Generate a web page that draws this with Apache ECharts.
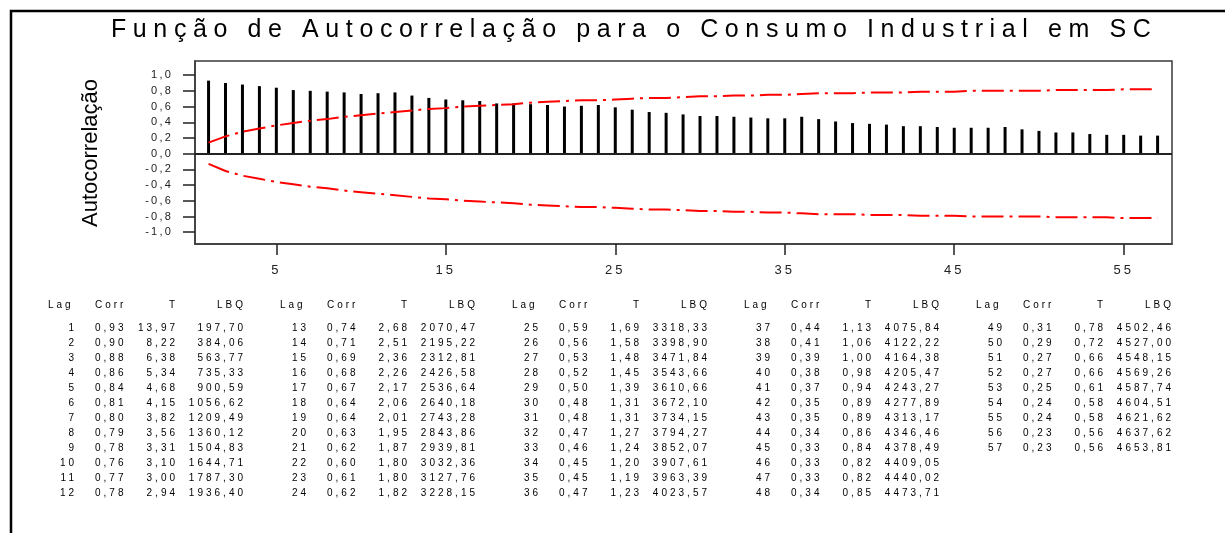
<!DOCTYPE html>
<html>
<head>
<meta charset="utf-8">
<script src="https://cdn.jsdelivr.net/npm/echarts@6/dist/echarts.min.js"></script>
<style>
  html, body { margin: 0; padding: 0; background: #fff; }
  #chart { width: 1225px; height: 533px; }
</style>
</head>
<body>
<div id="chart"></div>
<script>
// ---------------- DATA ----------------
const chartTitle = 'Função de Autocorrelação para o Consumo Industrial em SC';
const yAxisTitle = 'Autocorrelação';
const tableHeaders = ['Lag', 'Corr', 'T', 'LBQ'];

const lags = [1,2,3,4,5,6,7,8,9,10,11,12,13,14,15,16,17,18,19,20,21,22,23,24,25,26,27,28,29,30,
  31,32,33,34,35,36,37,38,39,40,41,42,43,44,45,46,47,48,49,50,51,52,53,54,55,56,57];

const corr = [0.93,0.90,0.88,0.86,0.84,0.81,0.80,0.79,0.78,0.76,0.77,0.78,
  0.74,0.71,0.69,0.68,0.67,0.64,0.64,0.63,0.62,0.60,0.61,0.62,
  0.59,0.56,0.53,0.52,0.50,0.48,0.48,0.47,0.46,0.45,0.45,0.47,
  0.44,0.41,0.39,0.38,0.37,0.35,0.35,0.34,0.33,0.33,0.33,0.34,
  0.31,0.29,0.27,0.27,0.25,0.24,0.24,0.23,0.23];

const tStat = [13.97,8.22,6.38,5.34,4.68,4.15,3.82,3.56,3.31,3.10,3.00,2.94,
  2.68,2.51,2.36,2.26,2.17,2.06,2.01,1.95,1.87,1.80,1.80,1.82,
  1.69,1.58,1.48,1.45,1.39,1.31,1.31,1.27,1.24,1.20,1.19,1.23,
  1.13,1.06,1.00,0.98,0.94,0.89,0.89,0.86,0.84,0.82,0.82,0.85,
  0.78,0.72,0.66,0.66,0.61,0.58,0.58,0.56,0.56];

const lbq = [197.70,384.06,563.77,735.33,900.59,1056.62,1209.49,1360.12,1504.83,1644.71,1787.30,1936.40,
  2070.47,2195.22,2312.81,2426.58,2536.64,2640.18,2743.28,2843.86,2939.81,3032.36,3127.76,3228.15,
  3318.33,3398.90,3471.84,3543.66,3610.66,3672.10,3734.15,3794.27,3852.07,3907.61,3963.39,4023.57,
  4075.84,4122.22,4164.38,4205.47,4243.27,4277.89,4313.17,4346.46,4378.49,4409.05,4440.02,4473.71,
  4502.46,4527.00,4548.15,4569.26,4587.74,4604.51,4621.62,4637.62,4653.81];

// significance limits
const upperLimit = [0.14,0.22,0.28,0.32,0.36,0.39,0.42,0.44,0.47,0.49,0.51,0.53,0.55,0.57,0.58,0.60,0.61,0.62,0.63,0.65,
  0.66,0.67,0.68,0.68,0.69,0.70,0.71,0.71,0.72,0.73,0.73,0.74,0.74,0.75,0.75,0.76,0.77,0.77,0.77,0.78,
  0.78,0.78,0.79,0.79,0.79,0.80,0.80,0.80,0.80,0.80,0.81,0.81,0.81,0.81,0.82,0.82,0.82];
const lowerLimit = [-0.13,-0.22,-0.28,-0.32,-0.36,-0.39,-0.42,-0.44,-0.47,-0.49,-0.51,-0.53,-0.55,-0.57,-0.58,-0.60,-0.61,-0.62,-0.63,-0.65,
  -0.66,-0.67,-0.68,-0.68,-0.69,-0.70,-0.71,-0.71,-0.72,-0.73,-0.73,-0.74,-0.74,-0.75,-0.75,-0.76,-0.77,-0.77,-0.77,-0.78,
  -0.78,-0.78,-0.79,-0.79,-0.79,-0.80,-0.80,-0.80,-0.80,-0.80,-0.81,-0.81,-0.81,-0.81,-0.82,-0.82,-0.82];

const xTickValues = [5,15,25,35,45,55];
const yTickValues = [-1,-0.8,-0.6,-0.4,-0.2,0,0.2,0.4,0.6,0.8,1];

// ------------- letter spacing (by font size) -------------
const LETTER_SPACING = { '25px': '6.6px', '11px': '2.2px', '13px': '3px', '10px': '3px' };
(function () {
  const P = CanvasRenderingContext2D.prototype;
  ['fillText', 'strokeText'].forEach(function (fn) {
    const orig = P[fn];
    P[fn] = function (t, x, y, w) {
      const m = /(\d+(?:\.\d+)?px)/.exec(this.font || '');
      const hasLS = 'letterSpacing' in this;
      const prev = hasLS ? this.letterSpacing : null;
      if (hasLS) this.letterSpacing = (m && LETTER_SPACING[m[1]]) || '0px';
      const r = w === undefined ? orig.call(this, t, x, y) : orig.call(this, t, x, y, w);
      if (hasLS) this.letterSpacing = prev;
      return r;
    };
  });
})();

// ---------------- CHART ----------------
const FONT = 'Arial, "Liberation Sans", sans-serif';
const fmt = v => v.toFixed(2).replace('.', ',');
const fmt1 = v => v.toFixed(1).replace('.', ',');

const chart = echarts.init(document.getElementById('chart'), null, { renderer: 'canvas' });

// table graphics
const tableGraphics = [];
const headerY = 305, row1Y = 328, pitch = 15, LS = 3;
for (let g = 0; g < 5; g++) {
  const s = g * 12, e = Math.min(s + 12, lags.length);
  if (s >= e) break;
  const bx = 48 + 232 * g;
  const cols = [
    { head: tableHeaders[0], hx: bx, halign: 'left',
      vals: lags.slice(s, e).map(String), vx: bx + 26 + LS, valign: 'right' },
    { head: tableHeaders[1], hx: bx + 47, halign: 'left',
      vals: corr.slice(s, e).map(fmt), vx: bx + 47, valign: 'left' },
    { head: tableHeaders[2], hx: bx + 127 + LS, halign: 'right',
      vals: tStat.slice(s, e).map(fmt), vx: bx + 127 + LS, valign: 'right' },
    { head: tableHeaders[3], hx: bx + 195 + LS, halign: 'right',
      vals: lbq.slice(s, e).map(fmt), vx: bx + 195 + LS, valign: 'right' }
  ];
  cols.forEach(c => {
    tableGraphics.push({
      type: 'text', x: c.hx, y: headerY, silent: true,
      style: { text: c.head, fontSize: 10, fontFamily: FONT, fill: '#000', align: c.halign, verticalAlign: 'middle' }
    });
    tableGraphics.push({
      type: 'text', x: c.vx, y: row1Y - pitch / 2, silent: true,
      style: { text: c.vals.join('\n'), fontSize: 10, fontFamily: FONT, fill: '#000',
               align: c.valign, verticalAlign: 'top', lineHeight: pitch }
    });
  });
}

const option = {
  backgroundColor: '#ffffff',
  animation: false,
  grid: { left: 195, right: 53, top: 61, bottom: 289, show: true, borderColor: '#3a3a3a', borderWidth: 1.5, backgroundColor: 'transparent' },
  xAxis: {
    type: 'value', min: 0.2, max: 57.85,
    axisLine: { show: true, onZero: false, lineStyle: { color: '#3a3a3a', width: 1.5 } },
    axisTick: { show: true, length: 11, customValues: xTickValues, lineStyle: { color: '#222', width: 1.5 } },
    axisLabel: { customValues: xTickValues, fontSize: 13, fontFamily: FONT, color: '#222', margin: 20 },
    splitLine: { show: false }
  },
  yAxis: {
    type: 'value', min: -1.15, max: 1.18,
    axisLine: { show: true, lineStyle: { color: '#3a3a3a', width: 1.5 } },
    axisTick: { show: true, length: 12, customValues: yTickValues, lineStyle: { color: '#222', width: 1.5 } },
    axisLabel: { customValues: yTickValues, fontSize: 11, fontFamily: FONT, color: '#222', margin: 22,
                 formatter: v => fmt1(v) },
    splitLine: { show: false }
  },
  series: [
    {
      type: 'bar', name: 'Corr', barWidth: 3,
      data: lags.map((l, i) => [l, corr[i]]),
      itemStyle: { color: '#000' },
      markLine: {
        silent: true, symbol: 'none', label: { show: false },
        lineStyle: { color: '#222', width: 2, type: 'solid' },
        data: [{ yAxis: 0 }]
      }
    },
    {
      type: 'line', name: 'upper', symbol: 'none', z: 3,
      data: lags.map((l, i) => [l, upperLimit[i]]),
      lineStyle: { color: '#ff0000', width: 2, type: [22, 6, 3, 6] }
    },
    {
      type: 'line', name: 'lower', symbol: 'none', z: 3,
      data: lags.map((l, i) => [l, lowerLimit[i]]),
      lineStyle: { color: '#ff0000', width: 2, type: [22, 6, 3, 6] }
    }
  ],
  graphic: [
    { type: 'rect', silent: true, z: -1, shape: { x: 11, y: 11, width: 1400, height: 700 },
      style: { fill: 'none', stroke: '#000', lineWidth: 2.5 } },
    { type: 'text', silent: true, x: 111, y: 30,
      style: { text: chartTitle, fontSize: 25, fontFamily: FONT, fill: '#000', align: 'left', verticalAlign: 'middle' } },
    { type: 'text', silent: true, x: 91, y: 153, rotation: Math.PI / 2,
      style: { text: yAxisTitle, fontSize: 22, fontFamily: FONT, fill: '#000', align: 'center', verticalAlign: 'middle' } }
  ].concat(tableGraphics)
};

chart.setOption(option);
</script>
</body>
</html>
